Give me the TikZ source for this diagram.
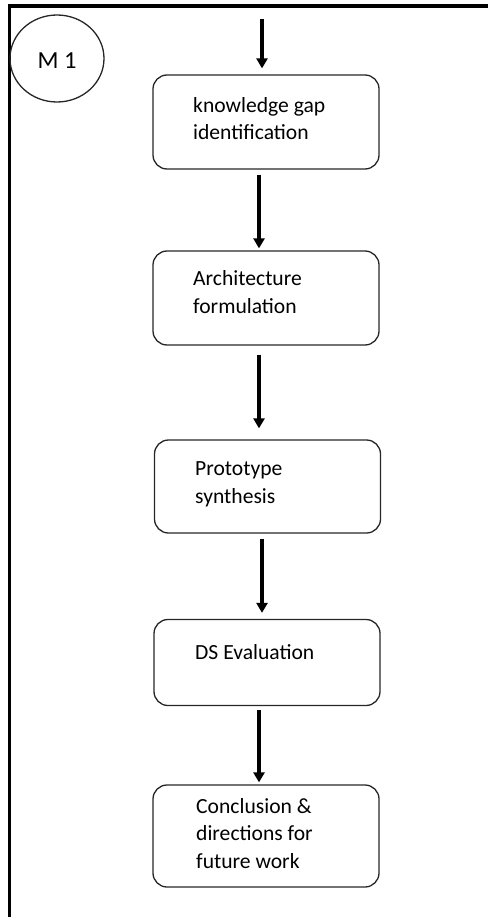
\documentclass[tikz,border=0pt]{standalone}
\usepackage{fontspec}
\setmainfont{Carlito}
\usetikzlibrary{arrows.meta,shapes.geometric}

\tikzset{
  stepbox/.style={draw=black!85, line width=1.3pt, rounded corners=14pt,
    inner sep=0pt, minimum width=226pt},
  % anchored at the baseline of the last line
  steptext/.style={inner sep=0pt, align=left, anchor=base west,
    font=\fontsize{21.6}{27.5}\selectfont},
  flow/.style={line width=3.5pt, -{Triangle[width=11pt,length=10pt]}},
  frame/.style={line width=3.5pt},
  tag/.style={draw=black!85, line width=1.3pt, ellipse, inner sep=0pt,
    minimum width=94pt, minimum height=87pt, text height=20pt, text depth=0pt,
    font=\fontsize{24.5}{28}\selectfont}
}

\begin{document}
\begin{tikzpicture}[x=1pt, y=-1pt]
  \useasboundingbox (0,0) rectangle (488,917);

  % page frame: top and left edges only
  \draw[frame] (488,6) -- (9.5,6) -- (9.5,917);

  % module tag
  \node[tag] (m1) at (57,58.5) {M 1};

  % process steps
  \node[stepbox, minimum height=94pt] (b1) at (266,122) {};
  \node[stepbox, minimum height=94pt] (b2) at (266,298) {};
  \node[stepbox, minimum height=93pt] (b3) at (267.5,486.5) {};
  \node[stepbox, minimum height=86pt] (b4) at (267,662.5) {};
  \node[stepbox, minimum height=102pt] (b5) at (266,836) {};

  \node[steptext] (t1) at (193,140) {knowledge gap\\identification};
  \node[steptext] (t2) at (193,313) {Architecture\\formulation};
  \node[steptext] (t3) at (195,503) {Prototype\\synthesis};
  \node[steptext] (t4) at (195,659) {DS Evaluation};
  \node[steptext] (t5) at (196,868) {Conclusion \&\\directions for\\future work};

  % incoming flow
  \coordinate (in) at (262,19);
  \draw[flow, shorten >=6pt] (in) -- (in |- b1.north);

  % flow between steps
  \draw[flow, shorten <=5pt, shorten >=2pt]
    ([xshift=-7pt]b1.south) -- ([xshift=-7pt]b2.north);
  \draw[flow, shorten <=9pt, shorten >=11pt]
    ([xshift=-7pt]b2.south) -- ([xshift=-8.5pt]b3.north);
  \draw[flow, shorten <=5pt, shorten >=6pt]
    ([xshift=-5.5pt]b3.south) -- ([xshift=-5pt]b4.north);
  \draw[flow, shorten <=4pt, shorten >=2pt]
    ([xshift=-8pt]b4.south) -- ([xshift=-7pt]b5.north);
\end{tikzpicture}
\end{document}
